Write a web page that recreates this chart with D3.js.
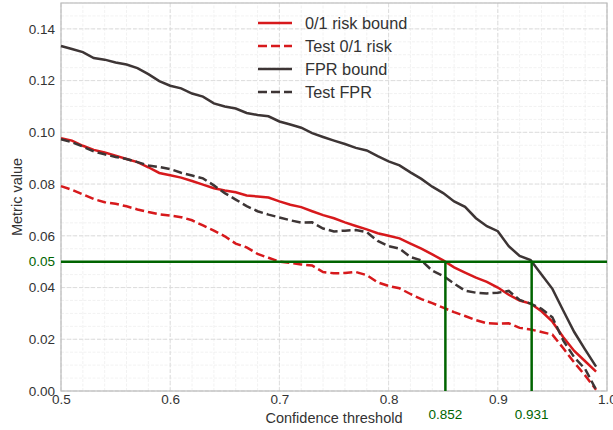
<!DOCTYPE html>
<html>
<head>
<meta charset="utf-8">
<script src="https://cdn.jsdelivr.net/npm/d3@7"></script>
<style>
  html, body { margin: 0; padding: 0; background: #fff; }
  svg { display: block; font-family: "Liberation Sans", Arial, sans-serif; }
</style>
</head>
<body>
<svg id="chart" width="613" height="430"></svg>
<script>
// Confidence thresholds (0.50 … 0.99, step 0.01)
const thresholds = d3.range(50, 100).map(v => v / 100);

const riskBound = [
  0.0977, 0.0968, 0.0948, 0.0932, 0.0922, 0.0910, 0.0897, 0.0885, 0.0865, 0.0843,
  0.0834, 0.0825, 0.0812, 0.0798, 0.0784, 0.0775, 0.0768, 0.0756, 0.0752, 0.0748,
  0.0733, 0.0720, 0.0711, 0.0695, 0.0680, 0.0668, 0.0652, 0.0638, 0.0625, 0.0610,
  0.0600, 0.0590, 0.0570, 0.0550, 0.0528, 0.0505, 0.0478, 0.0458, 0.0438, 0.0422,
  0.0400, 0.0372, 0.0350, 0.0338, 0.0308, 0.0268, 0.0208, 0.0155, 0.0115, 0.0075
];
const testRisk = [
  0.0792, 0.0778, 0.0760, 0.0742, 0.0730, 0.0724, 0.0714, 0.0702, 0.0692, 0.0683,
  0.0678, 0.0672, 0.0660, 0.0640, 0.0620, 0.0598, 0.0570, 0.0555, 0.0530, 0.0515,
  0.0500, 0.0495, 0.0489, 0.0485, 0.0460, 0.0455, 0.0456, 0.0460, 0.0448, 0.0420,
  0.0406, 0.0397, 0.0375, 0.0355, 0.0340, 0.0322, 0.0305, 0.0290, 0.0274, 0.0262,
  0.0260, 0.0262, 0.0244, 0.0238, 0.0228, 0.0218, 0.0165, 0.0110, 0.0060, 0.0005
];
const fprBound = [
  0.1334, 0.1322, 0.1310, 0.1287, 0.1281, 0.1270, 0.1262, 0.1248, 0.1225, 0.1198,
  0.1180, 0.1170, 0.1150, 0.1138, 0.1112, 0.1100, 0.1092, 0.1075, 0.1067, 0.1062,
  0.1042, 0.1030, 0.1018, 0.0997, 0.0982, 0.0968, 0.0955, 0.0940, 0.0930, 0.0908,
  0.0888, 0.0872, 0.0845, 0.0820, 0.0790, 0.0765, 0.0733, 0.0712, 0.0668, 0.0637,
  0.0618, 0.0560, 0.0522, 0.0506, 0.0450, 0.0395, 0.0310, 0.0228, 0.0160, 0.0094
];
const testFpr = [
  0.0973, 0.0962, 0.0945, 0.0926, 0.0915, 0.0905, 0.0897, 0.0885, 0.0872, 0.0866,
  0.0858, 0.0844, 0.0833, 0.0822, 0.0795, 0.0765, 0.0740, 0.0715, 0.0695, 0.0682,
  0.0671, 0.0660, 0.0651, 0.0652, 0.0628, 0.0617, 0.0620, 0.0622, 0.0614, 0.0580,
  0.0560, 0.0550, 0.0518, 0.0505, 0.0465, 0.0445, 0.0415, 0.0388, 0.0380, 0.0377,
  0.0380, 0.0387, 0.0352, 0.0338, 0.0318, 0.0285, 0.0195, 0.0130, 0.0085, 0.0005
];

const seriesNames = ["0/1 risk bound", "Test 0/1 risk", "FPR bound", "Test FPR"];
const xTicks = [0.5, 0.6, 0.7, 0.8, 0.9, 1.0];
const yTicks = [0.00, 0.02, 0.04, 0.06, 0.08, 0.10, 0.12, 0.14];
const targetLevel = 0.05;
const chosenThresholds = [0.852, 0.931];

const RED = "#d7191c";
const DARK = "#3d3535";
const GREEN = "#006400";

const margin = { left: 61, right: 6, top: 3, bottom: 39 };
const W = 613, H = 430;
const svg = d3.select("#chart");

const x = d3.scaleLinear().domain([0.5, 1.0]).range([margin.left, W - margin.right]);
const y = d3.scaleLinear().domain([0, 0.15]).range([H - margin.bottom, margin.top]);

// Grid: minor then major
const grid = svg.append("g");
grid.selectAll(".mx").data(d3.range(0.5, 1.0001, 0.02)).join("line")
  .attr("x1", d => x(d)).attr("x2", d => x(d))
  .attr("y1", y(0)).attr("y2", y(0.15))
  .attr("stroke", "#ececec").attr("stroke-width", 0.7).attr("stroke-dasharray", "3,1.5");
grid.selectAll(".my").data(d3.range(0, 0.1501, 0.005)).join("line")
  .attr("x1", x(0.5)).attr("x2", x(1.0))
  .attr("y1", d => y(d)).attr("y2", d => y(d))
  .attr("stroke", "#ececec").attr("stroke-width", 0.7).attr("stroke-dasharray", "3,1.5");
grid.selectAll(".Mx").data(xTicks).join("line")
  .attr("x1", d => x(d)).attr("x2", d => x(d))
  .attr("y1", y(0)).attr("y2", y(0.15))
  .attr("stroke", "#dadada").attr("stroke-width", 0.9).attr("stroke-dasharray", "4,2");
grid.selectAll(".My").data(yTicks).join("line")
  .attr("x1", x(0.5)).attr("x2", x(1.0))
  .attr("y1", d => y(d)).attr("y2", d => y(d))
  .attr("stroke", "#dadada").attr("stroke-width", 0.9).attr("stroke-dasharray", "4,2");

// Axes
const xAxis = svg.append("g")
  .attr("transform", `translate(0,${y(0)})`)
  .call(d3.axisBottom(x).tickValues(xTicks).tickFormat(d3.format(".1f")).tickSize(0).tickPadding(3));
const yAxis = svg.append("g")
  .attr("transform", `translate(${x(0.5)},0)`)
  .call(d3.axisLeft(y).tickValues(yTicks).tickFormat(d3.format(".2f")).tickSize(0).tickPadding(6));
[xAxis, yAxis].forEach(a => {
  a.select(".domain").remove();
  a.selectAll("text").attr("fill", "#333").style("font-size", "13.5px")
    .style("font-family", "'Liberation Sans', Arial, sans-serif");
});

// Green tick label at the target level
svg.append("text")
  .attr("x", x(0.5) - 6).attr("y", y(targetLevel)).attr("dy", "0.32em")
  .attr("text-anchor", "end").attr("fill", GREEN).style("font-size", "13.5px")
  .text(d3.format(".2f")(targetLevel));

// Frame
svg.append("rect")
  .attr("x", x(0.5)).attr("y", y(0.15))
  .attr("width", x(1.0) - x(0.5)).attr("height", y(0) - y(0.15))
  .attr("fill", "none").attr("stroke", "#bdbdbd").attr("stroke-width", 1.2);

// Curves
const line = d3.line().x((d, i) => x(thresholds[i])).y(d => y(d));
const curves = [
  { name: seriesNames[0], values: riskBound, color: RED, dash: null },
  { name: seriesNames[1], values: testRisk, color: RED, dash: "9,4" },
  { name: seriesNames[2], values: fprBound, color: DARK, dash: null },
  { name: seriesNames[3], values: testFpr, color: DARK, dash: "9,4" }
];
svg.append("g").selectAll("path").data(curves).join("path")
  .attr("d", d => line(d.values))
  .attr("fill", "none")
  .attr("stroke", d => d.color)
  .attr("stroke-width", 2.5)
  .attr("stroke-dasharray", d => d.dash);

// Target level and selected thresholds
svg.append("line")
  .attr("x1", x(0.5)).attr("x2", x(1.0))
  .attr("y1", y(targetLevel)).attr("y2", y(targetLevel))
  .attr("stroke", GREEN).attr("stroke-width", 2.5);
svg.append("g").selectAll("line").data(chosenThresholds).join("line")
  .attr("x1", d => x(d)).attr("x2", d => x(d))
  .attr("y1", y(0)).attr("y2", y(targetLevel))
  .attr("stroke", GREEN).attr("stroke-width", 2.5);
svg.append("g").selectAll("text").data(chosenThresholds).join("text")
  .attr("x", d => x(d)).attr("y", y(0) + 24).attr("dy", "0.32em")
  .attr("text-anchor", "middle").attr("fill", GREEN).style("font-size", "13.5px")
  .text(d => d3.format(".3f")(d));

// Axis titles
svg.append("text")
  .attr("x", (x(0.5) + x(1.0)) / 2).attr("y", 418).attr("dy", "0.32em")
  .attr("text-anchor", "middle").attr("fill", "#333").style("font-size", "14.5px")
  .text("Confidence threshold");
svg.append("text")
  .attr("transform", `translate(17,${(y(0) + y(0.15)) / 2}) rotate(-90)`)
  .attr("dy", "0.32em")
  .attr("text-anchor", "middle").attr("fill", "#333").style("font-size", "14.5px")
  .text("Metric value");

// Legend
const legend = svg.append("g").attr("transform", "translate(258,23)");
const rows = legend.selectAll("g").data(curves).join("g")
  .attr("transform", (d, i) => `translate(0,${i * 23})`);
rows.append("line")
  .attr("x1", 0).attr("x2", 34).attr("y1", 0).attr("y2", 0)
  .attr("stroke", d => d.color).attr("stroke-width", 2.5)
  .attr("stroke-dasharray", d => d.dash);
rows.append("text")
  .attr("x", 47).attr("y", 0).attr("dy", "0.35em")
  .attr("fill", "#333").style("font-size", "16.3px")
  .text(d => d.name);
</script>
</body>
</html>
